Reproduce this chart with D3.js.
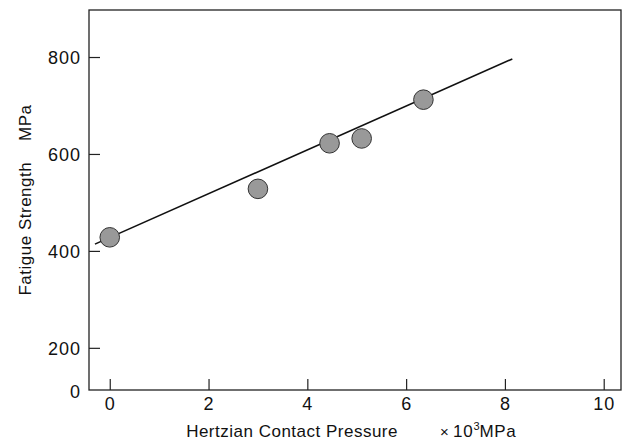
<!DOCTYPE html>
<html>

<head>
    <title>fatigue</title>
    <script src="https://cdn.jsdelivr.net/npm/d3@7"></script>
    <style>
        body { margin: 0; background: #fff; }
        text { font-family: "Liberation Sans", Arial, sans-serif; fill: #111; }
    </style>
</head>

<body>
    <script>
        const width = 629;
        const height = 443;

        // data
        const pressure = [0, 3.0, 4.45, 5.1, 6.35];
        const strength = [428, 528, 622, 632, 712];
        const fitX = [-0.3, 8.15];
        const fitY = [414, 796];
        const xTicks = [0, 2, 4, 6, 8, 10];
        const yTicks = [200, 400, 600, 800];

        const m = { left: 89, right: 621, top: 10, bottom: 390 };

        let x = d3.scaleLinear()
            .domain([-0.42, 10.35])
            .range([m.left, m.right]);

        let y = d3.scaleLinear()
            .domain([113, 897])
            .range([m.bottom, m.top]);

        const svg = d3.select("body").append("svg")
            .attr("width", width)
            .attr("height", height);

        // frame
        svg.append("rect")
            .attr("x", m.left).attr("y", m.top)
            .attr("width", m.right - m.left).attr("height", m.bottom - m.top)
            .attr("fill", "none").attr("stroke", "#222").attr("stroke-width", 1.3);

        // x axis, ticks pointing up
        const gx = svg.append("g")
            .attr("transform", `translate(0,${m.bottom})`)
            .call(d3.axisTop(x).tickValues(xTicks).tickSize(11).tickFormat(d3.format("d")))
            .call(g => g.select(".domain").remove());
        gx.selectAll("line").attr("stroke", "#222").attr("stroke-width", 1.2);
        gx.selectAll("text")
            .attr("y", 20).attr("dy", 0)
            .attr("font-size", 18).attr("letter-spacing", 1);

        // y axis, ticks pointing right
        const gy = svg.append("g")
            .attr("transform", `translate(${m.left},0)`)
            .call(d3.axisRight(y).tickValues(yTicks).tickSize(11).tickFormat(d3.format("d")))
            .call(g => g.select(".domain").remove());
        gy.selectAll("line").attr("stroke", "#222").attr("stroke-width", 1.2);
        gy.selectAll("text")
            .attr("x", -8).attr("text-anchor", "end").attr("dy", "0.36em")
            .attr("font-size", 18).attr("letter-spacing", 1);

        // the "0" at the foot of the broken y axis
        svg.append("text")
            .attr("x", m.left - 8).attr("y", m.bottom + 2).attr("dy", "0.36em")
            .attr("text-anchor", "end")
            .attr("font-size", 18).attr("letter-spacing", 1)
            .text("0");

        // fit line
        svg.append("line")
            .attr("x1", x(fitX[0])).attr("y1", y(fitY[0]))
            .attr("x2", x(fitX[1])).attr("y2", y(fitY[1]))
            .attr("stroke", "#111").attr("stroke-width", 1.6);

        // points
        svg.append("g")
            .selectAll("circle")
            .data(d3.zip(pressure, strength))
            .enter()
            .append("circle")
            .attr("cx", d => x(d[0]))
            .attr("cy", d => y(d[1]))
            .attr("r", 9.8)
            .attr("fill", "#999")
            .attr("stroke", "#333")
            .attr("stroke-width", 1);

        // axis titles
        const cx = (m.left + m.right) / 2;
        svg.append("text")
            .attr("x", cx + 43).attr("y", 437)
            .attr("text-anchor", "end")
            .attr("font-size", 17).attr("letter-spacing", 0.5)
            .text("Hertzian Contact Pressure");

        const unit = svg.append("text")
            .attr("x", cx + 85).attr("y", 437)
            .attr("font-size", 17);
        unit.append("tspan").attr("font-size", 15).text("\u00d7 ");
        unit.append("tspan").attr("letter-spacing", 0.8).text("10");
        unit.append("tspan").attr("font-size", 11).attr("dy", -7).text("3");
        unit.append("tspan").attr("dy", 7).attr("letter-spacing", 0.6).text("MPa");

        svg.append("text")
            .attr("transform", `translate(31,${(m.top + m.bottom) / 2}) rotate(-90)`)
            .attr("text-anchor", "middle")
            .attr("font-size", 17).attr("letter-spacing", 0.5)
            .style("white-space", "pre")
            .text("Fatigue Strength    MPa");
    </script>
</body>

</html>
